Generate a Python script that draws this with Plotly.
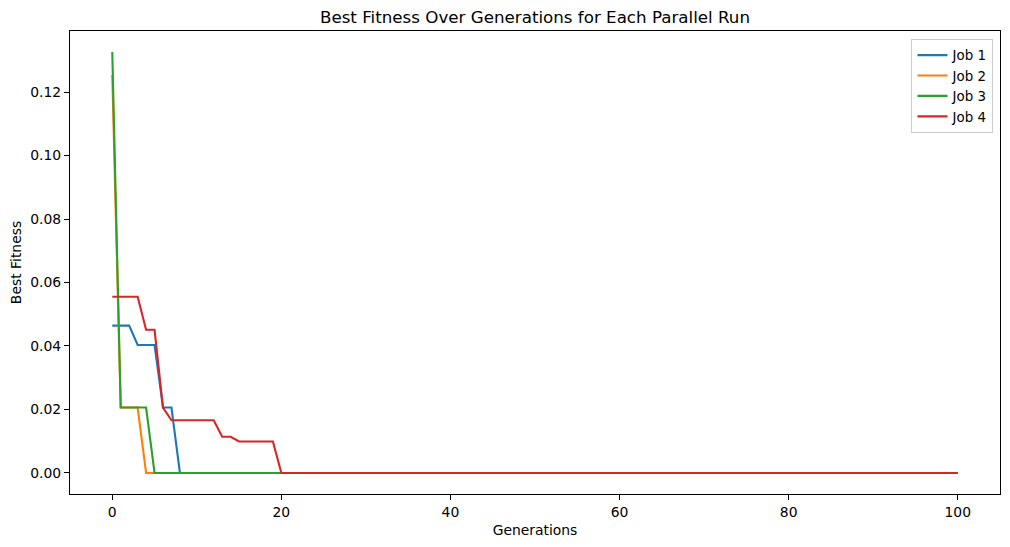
import plotly.graph_objects as go

generations = list(range(101))
job1 = [0.0464, 0.0464, 0.0464, 0.0403, 0.0403, 0.0403, 0.0206, 0.0206] + [0.0] * 93
job2 = [0.1254, 0.0206, 0.0206, 0.0206] + [0.0] * 97
job3 = [0.1326, 0.0206, 0.0206, 0.0206, 0.0206] + [0.0] * 96
job4 = [0.0555, 0.0555, 0.0555, 0.0555, 0.0451, 0.0451, 0.0206, 0.0166, 0.0166, 0.0166,
        0.0166, 0.0166, 0.0166, 0.0114, 0.0114, 0.0099, 0.0099, 0.0099, 0.0099, 0.0099] + [0.0] * 81

names = ["Job 1", "Job 2", "Job 3", "Job 4"]
series = [job1, job2, job3, job4]
colors = ["#1f77b4", "#ff7f0e", "#2ca02c", "#d62728"]

fig = go.Figure()
for n, s, c in zip(names, series, colors):
    fig.add_trace(go.Scatter(x=generations, y=s, mode="lines", name=n,
                             line=dict(color=c, width=2.1)))

font = "DejaVu Sans"
fig.update_layout(
    width=1010, height=547,
    margin=dict(l=70, r=10, t=31, b=53),
    paper_bgcolor="white", plot_bgcolor="white",
    font=dict(family=font, size=13.9, color="black"),
    title=dict(text="Best Fitness Over Generations for Each Parallel Run",
               x=0.5, xref="paper", xanchor="center", y=1 - 17 / 547, yanchor="middle",
               font=dict(size=16.7, family=font, color="black")),
    xaxis=dict(range=[-5, 105], tickvals=[0, 20, 40, 60, 80, 100], showgrid=False,
               zeroline=False, showline=True, linecolor="black", linewidth=1, mirror=True,
               ticks="outside", ticklen=5, tickcolor="black",
               title=dict(text="Generations", standoff=6, font=dict(size=13.9))),
    yaxis=dict(range=[-0.00663, 0.13923], tickvals=[0, 0.02, 0.04, 0.06, 0.08, 0.10, 0.12],
               tickformat=".2f", showgrid=False,
               zeroline=False, showline=True, linecolor="black", linewidth=1, mirror=True,
               ticks="outside", ticklen=5, tickcolor="black",
               title=dict(text="Best Fitness", standoff=5, font=dict(size=13.9))),
    legend=dict(x=0.993, y=0.983, xanchor="right", yanchor="top",
                bordercolor="#cccccc", borderwidth=1, bgcolor="rgba(255,255,255,0.8)",
                font=dict(size=13.4), tracegroupgap=0),
)
fig.write_html("out.html")
